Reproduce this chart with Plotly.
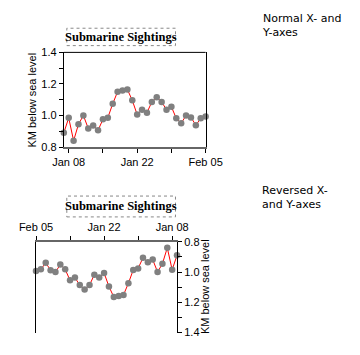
import plotly.graph_objects as go

# ---- data ----
dates = [
    "2024-01-07", "2024-01-08", "2024-01-09", "2024-01-10", "2024-01-11",
    "2024-01-12", "2024-01-13", "2024-01-14", "2024-01-15", "2024-01-16",
    "2024-01-17", "2024-01-18", "2024-01-19", "2024-01-20", "2024-01-21",
    "2024-01-22", "2024-01-23", "2024-01-24", "2024-01-25", "2024-01-26",
    "2024-01-27", "2024-01-28", "2024-01-29", "2024-01-30", "2024-01-31",
    "2024-02-01", "2024-02-02", "2024-02-03", "2024-02-04", "2024-02-05",
]
depth_km = [
    0.89, 0.985, 0.84, 0.945, 1.0,
    0.918, 0.936, 0.906, 0.976, 0.986,
    1.074, 1.151, 1.159, 1.165, 1.096,
    1.006, 1.037, 1.018, 1.086, 1.116,
    1.086, 1.037, 1.055, 0.982, 0.951,
    1.0, 0.988, 0.939, 0.982, 0.994,
]
x_tickvals = ["2024-01-08", "2024-01-15", "2024-01-22", "2024-01-29", "2024-02-05"]
x_ticktext = ["Jan 08", "", "Jan 22", "", "Feb 05"]
y_tickvals = [0.8, 0.9, 1.0, 1.1, 1.2, 1.3, 1.4]
y_ticktext = ["0.8", "", "1.0", "", "1.2", "", "1.4"]
chart_title = "Submarine Sightings"
y_title = "KM below sea level"
caption_top = "Normal X- and<br>Y-axes"
caption_bottom = "Reversed X-<br>and Y-axes"

W, H = 360, 355


def px_x(v):
    return v / W


def px_y(v):
    return 1 - v / H


fig = go.Figure()

line_style = dict(color="#ff0000", width=1)
marker_style = dict(color="#808080", size=6.5)

fig.add_trace(go.Scatter(x=dates, y=depth_km, mode="lines+markers",
                         line=line_style, marker=marker_style,
                         cliponaxis=False, xaxis="x", yaxis="y"))
fig.add_trace(go.Scatter(x=dates, y=depth_km, mode="lines+markers",
                         line=line_style, marker=marker_style,
                         cliponaxis=False, xaxis="x2", yaxis="y2"))

tick_font = dict(family="Liberation Sans, Arial, sans-serif", size=11, color="black")

common_x = dict(type="date", tickvals=x_tickvals, ticktext=x_ticktext,
                showgrid=False, zeroline=False, showline=True,
                linecolor="#666666", linewidth=2, ticks="outside",
                ticklen=4, tickcolor="black", tickfont=tick_font)
common_y = dict(tickvals=y_tickvals, ticktext=y_ticktext, showgrid=False,
                zeroline=False, showline=True, linecolor="black", linewidth=1,
                mirror=True, ticks="outside", ticklen=4, tickcolor="black",
                tickfont=tick_font)

fig.update_layout(
    width=W, height=H, autosize=False,
    margin=dict(l=0, r=0, t=0, b=0),
    paper_bgcolor="white", plot_bgcolor="white",
    showlegend=False,
    xaxis=dict(domain=[px_x(51.7), px_x(208.3)], anchor="y",
               range=["2024-01-07", "2024-02-05"], side="bottom", **common_x),
    yaxis=dict(domain=[px_y(146), px_y(48)], anchor="x",
               range=[0.8, 1.4], side="left", **common_y),
    xaxis2=dict(domain=[px_x(21), px_x(176.7)], anchor="y2",
                range=["2024-02-05", "2024-01-07"], side="top", **common_x),
    yaxis2=dict(domain=[px_y(338), px_y(244)], anchor="x2",
                range=[1.4, 0.8], side="right", **common_y),
)

# top frame line of the normal chart
fig.add_shape(type="line", xref="x domain", yref="y domain",
              x0=0, x1=1, y0=1, y1=1, line=dict(color="black", width=1))

# y-axis titles
fig.add_annotation(text=y_title, xref="paper", yref="paper",
                   x=px_x(17), y=px_y(97.5), textangle=-90, showarrow=False,
                   xanchor="center", yanchor="middle", font=tick_font)
fig.add_annotation(text=y_title, xref="paper", yref="paper",
                   x=px_x(207.5), y=px_y(290), textangle=-90, showarrow=False,
                   xanchor="center", yanchor="middle", font=tick_font)

# title boxes
title_font = dict(family="Liberation Serif, Times New Roman, serif", size=12.5, color="black")
for (y0, y1) in [(41, 23), (218.3, 196.7)]:
    fig.add_shape(type="rect", xref="paper", yref="paper",
                  x0=px_x(55), x1=px_x(175), y0=px_y(y0), y1=px_y(y1),
                  line=dict(color="#888888", width=1, dash="dot"))
    fig.add_annotation(text="<b>" + chart_title + "</b>", xref="paper", yref="paper",
                       x=px_x(115), y=px_y((y0 + y1) / 2), showarrow=False,
                       xanchor="center", yanchor="middle", font=title_font)

cap_font = dict(family="DejaVu Sans, Verdana, sans-serif", size=11, color="black")
fig.add_annotation(text=caption_top, xref="paper", yref="paper",
                   x=px_x(268), y=px_y(4), xanchor="left", yanchor="top",
                   align="left", showarrow=False, font=cap_font)
fig.add_annotation(text=caption_bottom, xref="paper", yref="paper",
                   x=px_x(268), y=px_y(182), xanchor="left", yanchor="top",
                   align="left", showarrow=False, font=cap_font)

fig.write_html("out.html", config={"displayModeBar": False},
               post_script="document.body.style.margin='0';")
